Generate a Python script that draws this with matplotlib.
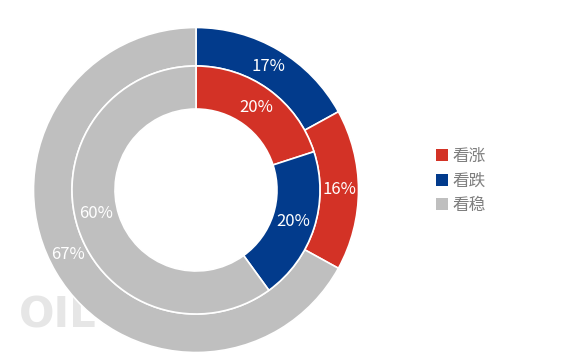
import matplotlib
matplotlib.use("Agg")
import numpy as np
import matplotlib.pyplot as plt
from matplotlib.patches import Patch

plt.rcParams['font.family'] = ['Noto Sans CJK SC', 'DejaVu Sans']

# 数据
categories = ['看涨', '看跌', '看稳']
colors = ['#D33226', '#023B8C', '#BFBFBF']
outer_vals = [16, 17, 67]   # 外环
inner_vals = [20, 20, 60]   # 内环

# 外环顺序：看跌, 看涨, 看稳（从12点钟顺时针）
outer_order = [1, 0, 2]
inner_order = [0, 1, 2]

fig = plt.figure(figsize=(5.68, 3.59), dpi=100)
ax = fig.add_axes([0, 0, 1, 1])

cx, cy = 196, 169
r_out, r_mid, r_in = 162.5, 124, 81

# 水印
ax.text(19, 44, 'OILCHEM', fontsize=30, color='#e6e6e6', fontweight='bold',
        family='DejaVu Sans', ha='left', va='center', zorder=0)


def ring(vals, order, radius, width, gray_shift):
    v = [vals[i] for i in order]
    c = [colors[i] for i in order]
    wedges, texts = ax.pie(v, colors=c, radius=radius, center=(cx, cy),
                           startangle=90, counterclock=False, frame=True,
                           labels=[f'{x}%' for x in v],
                           labeldistance=(radius - width / 2) / radius,
                           wedgeprops=dict(width=width, edgecolor='white', linewidth=1.2),
                           textprops=dict(color='white', fontsize=12, ha='center', va='center'))
    for w in wedges:
        w.set_zorder(2)
    for t in texts:
        t.set_zorder(3)
    # 灰色标签位置略向上偏
    w = wedges[-1]
    ang = np.deg2rad((w.theta1 + w.theta2) / 2 - gray_shift)
    rr = radius - width / 2
    texts[-1].set_position((cx + rr * np.cos(ang), cy + rr * np.sin(ang)))


ring(outer_vals, outer_order, r_out, r_out - r_mid, 4)
ring(inner_vals, inner_order, r_mid, r_mid - r_in, 5)

ax.set_xlim(0, 568)
ax.set_ylim(0, 359)
ax.set_aspect('equal')
ax.axis('off')

handles = [Patch(facecolor=colors[i], edgecolor='none') for i in range(3)]
ax.legend(handles, categories, loc='center left', bbox_to_anchor=(421 / 568, 178 / 359),
          frameon=False, fontsize=12, handlelength=0.7, handleheight=0.7,
          handletextpad=0.3, labelspacing=0.45, labelcolor='#7f7f7f')

fig.savefig('out.png', dpi=100)
